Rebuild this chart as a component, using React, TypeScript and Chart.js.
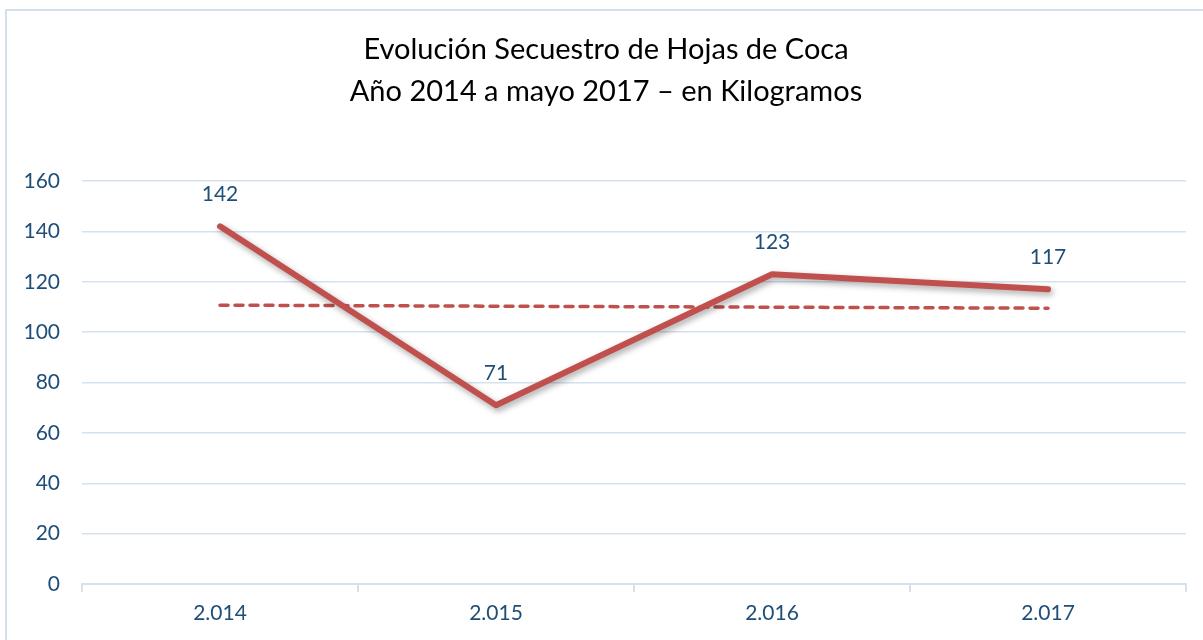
import React, { useEffect, useRef } from "react";
import { Chart, registerables } from "chart.js";

Chart.register(...registerables);

const categories = ["2.014", "2.015", "2.016", "2.017"];
const values = [142, 71, 123, 117];
const trendValues = [110.7, null, null, 109.5];
const titleLines = ["Evolución Secuestro de Hojas de Coca", "Año 2014 a mayo 2017 – en Kilogramos"];
const yTicks = [0, 20, 40, 60, 80, 100, 120, 140, 160];

const FONT = "Lato, 'Open Sans', sans-serif";
const LABEL_COLOR = "#1F4E79";
const GRID = "#D6E1F0";
const RED = "#C0504D";

export default function App() {
  const ref = useRef<HTMLCanvasElement | null>(null);

  useEffect(() => {
    if (!ref.current) return;

    const shadowPlugin = {
      id: "lineShadow",
      beforeDatasetDraw(chart: any, args: any) {
        if (args.index !== 0) return;
        const ctx = chart.ctx;
        ctx.save();
        ctx.shadowColor = "rgba(0,0,0,0.35)";
        ctx.shadowBlur = 6;
        ctx.shadowOffsetX = 2;
        ctx.shadowOffsetY = 3;
      },
      afterDatasetDraw(chart: any, args: any) {
        if (args.index !== 0) return;
        chart.ctx.restore();
      },
    };

    const labelPlugin = {
      id: "dataLabels",
      afterDatasetsDraw(chart: any) {
        const ctx = chart.ctx;
        const meta = chart.getDatasetMeta(0);
        ctx.save();
        ctx.font = `21px ${FONT}`;
        ctx.fillStyle = LABEL_COLOR;
        ctx.textAlign = "center";
        ctx.textBaseline = "middle";
        meta.data.forEach((pt: any, i: number) => {
          ctx.fillText(String(values[i]), pt.x, pt.y - 32);
        });
        ctx.restore();
      },
    };

    const titlePlugin = {
      id: "customTitle",
      afterDraw(chart: any) {
        const ctx = chart.ctx;
        ctx.save();
        ctx.font = `29px ${FONT}`;
        ctx.fillStyle = "#000000";
        ctx.textAlign = "center";
        ctx.textBaseline = "middle";
        ctx.fillText(titleLines[0], 606, 50);
        ctx.fillText(titleLines[1], 606, 92);
        ctx.restore();
      },
    };

    const chart = new Chart(ref.current, {
      type: "line",
      data: {
        labels: categories,
        datasets: [
          {
            label: "Kilogramos",
            data: values,
            borderColor: RED,
            borderWidth: 6,
            borderCapStyle: "round",
            borderJoinStyle: "round",
            pointRadius: 0,
            tension: 0,
            fill: false,
          },
          {
            label: "Tendencia",
            data: trendValues as any,
            borderColor: RED,
            borderWidth: 3.5,
            borderDash: [8, 7],
            borderCapStyle: "round",
            pointRadius: 0,
            spanGaps: true,
            tension: 0,
            fill: false,
          },
        ],
      },
      options: {
        animation: false,
        responsive: false,
        layout: { padding: { top: 181, right: 17, bottom: 0, left: 0 } },
        plugins: {
          legend: { display: false },
          title: { display: false },
          tooltip: { enabled: false },
        },
        scales: {
          x: {
            offset: true,
            afterFit(scale: any) {
              scale.height = 56;
            },
            grid: {
              offset: true,
              drawOnChartArea: false,
              drawTicks: true,
              tickLength: 8,
              tickColor: GRID,
              lineWidth: 2,
              color: GRID,
            },
            border: { display: true, color: GRID, width: 2 },
            ticks: {
              padding: 9,
              color: LABEL_COLOR,
              font: { family: FONT, size: 21 },
            },
          },
          y: {
            min: 0,
            max: 160,
            afterFit(scale: any) {
              scale.width = 82;
            },
            afterBuildTicks(scale: any) {
              scale.ticks = yTicks.map((v) => ({ value: v }));
            },
            grid: {
              drawTicks: false,
              color: GRID,
              lineWidth: 1.5,
            },
            border: { display: false },
            ticks: {
              padding: 22,
              color: LABEL_COLOR,
              font: { family: FONT, size: 21 },
            },
          },
        },
      },
      plugins: [shadowPlugin, labelPlugin, titlePlugin],
    });

    return () => chart.destroy();
  }, []);

  return (
    <div
      style={{
        position: "fixed",
        left: 0,
        top: 0,
        width: 1203,
        height: 640,
        overflow: "hidden",
        background: "#ffffff",
      }}
    >
      <div
        style={{
          position: "absolute",
          left: 5,
          top: 9,
          width: 1260,
          height: 700,
          border: "2px solid #D3DFEE",
          boxSizing: "border-box",
        }}
      />
      <canvas
        ref={ref}
        width={1203}
        height={640}
        style={{ position: "absolute", left: 0, top: 0, display: "block" }}
      />
    </div>
  );
}
